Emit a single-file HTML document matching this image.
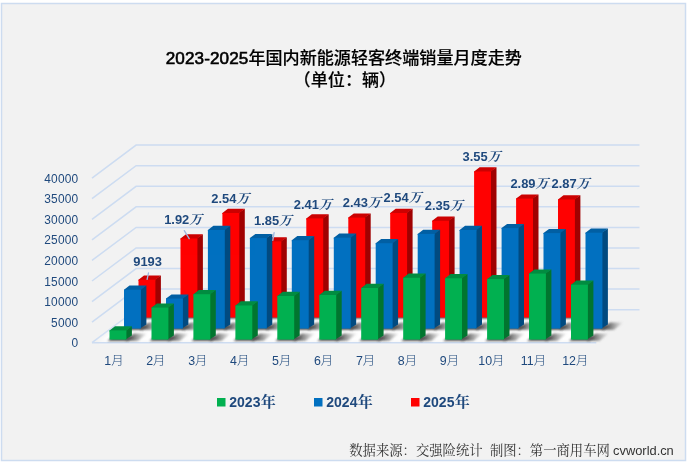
<!DOCTYPE html>
<html lang="zh"><head><meta charset="utf-8"><title>2023-2025年国内新能源轻客终端销量月度走势</title>
<style>html,body{margin:0;padding:0;background:#fff}body{width:687px;height:462px;overflow:hidden}</style>
</head><body>
<svg width="687" height="462" viewBox="0 0 687 462" style="display:block;will-change:transform;opacity:0.9999">
<defs>
<filter id="b1" x="-20%" y="-50%" width="140%" height="200%"><feGaussianBlur stdDeviation="0.85"/></filter>
<filter id="b2" x="-5%" y="-30%" width="110%" height="160%"><feGaussianBlur stdDeviation="2.2"/></filter>
<linearGradient id="sh" x1="0" y1="0" x2="1" y2="0"><stop offset="0" stop-color="#2e2e2e" stop-opacity="0.95"/><stop offset="0.35" stop-color="#444" stop-opacity="0.75"/><stop offset="0.7" stop-color="#666" stop-opacity="0.4"/><stop offset="1" stop-color="#888" stop-opacity="0.05"/></linearGradient>
</defs>
<rect x="0" y="0" width="687" height="462" fill="#ffffff"/>
<rect x="1.5" y="3.5" width="684" height="457" fill="#F2F2F2" stroke="#CDDCF0" stroke-width="1.5"/>
<path d="M92.0 342.7 L136.1 309.7 L639.5 309.7" fill="none" stroke="#CDDCF1" stroke-width="1.5"/>
<path d="M92.0 322.1 L136.1 289.1 L639.5 289.1" fill="none" stroke="#CDDCF1" stroke-width="1.5"/>
<path d="M92.0 301.6 L136.1 268.6 L639.5 268.6" fill="none" stroke="#CDDCF1" stroke-width="1.5"/>
<path d="M92.0 281.0 L136.1 248.0 L639.5 248.0" fill="none" stroke="#CDDCF1" stroke-width="1.5"/>
<path d="M92.0 260.4 L136.1 227.4 L639.5 227.4" fill="none" stroke="#CDDCF1" stroke-width="1.5"/>
<path d="M92.0 239.8 L136.1 206.8 L639.5 206.8" fill="none" stroke="#CDDCF1" stroke-width="1.5"/>
<path d="M92.0 219.3 L136.1 186.3 L639.5 186.3" fill="none" stroke="#CDDCF1" stroke-width="1.5"/>
<path d="M92.0 198.7 L136.1 165.7 L639.5 165.7" fill="none" stroke="#CDDCF1" stroke-width="1.5"/>
<path d="M92.0 178.1 L136.1 145.1 L639.5 145.1" fill="none" stroke="#CDDCF1" stroke-width="1.5"/>
<polygon points="98.0,341.7 594.4,341.7 608.4,325.7 605.5,313.7 134.1,313.7" fill="#ffffff" opacity="0.95" filter="url(#b2)"/>
<path d="M92.0 342.7 L596.3 342.7" stroke="#CDDCF1" stroke-width="1.5" fill="none"/>
<polygon points="154.4,318.7 166.9,318.7 176.4,311.3 162.9,311.3" fill="url(#sh)" filter="url(#b1)"/>
<polygon points="136.7,318.8 156.4,318.8 161.9,313.6 142.2,313.6" fill="#3a3a3a" opacity="0.85" filter="url(#b1)"/>
<polygon points="196.4,318.7 208.9,318.7 218.4,311.3 204.9,311.3" fill="url(#sh)" filter="url(#b1)"/>
<polygon points="178.7,318.8 198.4,318.8 203.9,313.6 184.2,313.6" fill="#3a3a3a" opacity="0.85" filter="url(#b1)"/>
<polygon points="238.3,318.7 250.8,318.7 260.3,311.3 246.8,311.3" fill="url(#sh)" filter="url(#b1)"/>
<polygon points="220.6,318.8 240.3,318.8 245.8,313.6 226.1,313.6" fill="#3a3a3a" opacity="0.85" filter="url(#b1)"/>
<polygon points="280.3,318.7 292.8,318.7 302.3,311.3 288.8,311.3" fill="url(#sh)" filter="url(#b1)"/>
<polygon points="262.6,318.8 282.3,318.8 287.8,313.6 268.1,313.6" fill="#3a3a3a" opacity="0.85" filter="url(#b1)"/>
<polygon points="322.2,318.7 334.7,318.7 344.2,311.3 330.7,311.3" fill="url(#sh)" filter="url(#b1)"/>
<polygon points="304.5,318.8 324.2,318.8 329.7,313.6 310.0,313.6" fill="#3a3a3a" opacity="0.85" filter="url(#b1)"/>
<polygon points="364.2,318.7 376.7,318.7 386.2,311.3 372.7,311.3" fill="url(#sh)" filter="url(#b1)"/>
<polygon points="346.5,318.8 366.2,318.8 371.7,313.6 352.0,313.6" fill="#3a3a3a" opacity="0.85" filter="url(#b1)"/>
<polygon points="406.1,318.7 418.6,318.7 428.1,311.3 414.6,311.3" fill="url(#sh)" filter="url(#b1)"/>
<polygon points="388.4,318.8 408.1,318.8 413.6,313.6 393.9,313.6" fill="#3a3a3a" opacity="0.85" filter="url(#b1)"/>
<polygon points="448.1,318.7 460.6,318.7 470.1,311.3 456.6,311.3" fill="url(#sh)" filter="url(#b1)"/>
<polygon points="430.4,318.8 450.1,318.8 455.6,313.6 435.9,313.6" fill="#3a3a3a" opacity="0.85" filter="url(#b1)"/>
<polygon points="490.0,318.7 502.5,318.7 512.0,311.3 498.5,311.3" fill="url(#sh)" filter="url(#b1)"/>
<polygon points="472.3,318.8 492.0,318.8 497.5,313.6 477.8,313.6" fill="#3a3a3a" opacity="0.85" filter="url(#b1)"/>
<polygon points="532.0,318.7 544.5,318.7 554.0,311.3 540.5,311.3" fill="url(#sh)" filter="url(#b1)"/>
<polygon points="514.3,318.8 534.0,318.8 539.5,313.6 519.8,313.6" fill="#3a3a3a" opacity="0.85" filter="url(#b1)"/>
<polygon points="573.9,318.7 586.4,318.7 595.9,311.3 582.4,311.3" fill="url(#sh)" filter="url(#b1)"/>
<polygon points="556.2,318.8 575.9,318.8 581.4,313.6 561.7,313.6" fill="#3a3a3a" opacity="0.85" filter="url(#b1)"/>
<polygon points="154.4,279.7 160.9,275.5 160.9,313.3 154.4,317.5" fill="#A00000"/>
<polygon points="138.5,279.7 144.0,275.5 160.9,275.5 155.4,279.7 155.4,280.7 138.5,280.7" fill="#CC0000"/>
<rect x="138.5" y="279.7" width="16.9" height="37.8" fill="#FF0000"/>
<polygon points="196.4,238.5 202.9,234.3 202.9,313.3 196.4,317.5" fill="#A00000"/>
<polygon points="180.5,238.5 186.0,234.3 202.9,234.3 197.4,238.5 197.4,239.5 180.5,239.5" fill="#CC0000"/>
<rect x="180.5" y="238.5" width="16.9" height="79.0" fill="#FF0000"/>
<polygon points="238.3,213.0 244.8,208.8 244.8,313.3 238.3,317.5" fill="#A00000"/>
<polygon points="222.4,213.0 227.9,208.8 244.8,208.8 239.3,213.0 239.3,214.0 222.4,214.0" fill="#CC0000"/>
<rect x="222.4" y="213.0" width="16.9" height="104.5" fill="#FF0000"/>
<polygon points="280.3,241.4 286.8,237.2 286.8,313.3 280.3,317.5" fill="#A00000"/>
<polygon points="264.4,241.4 269.9,237.2 286.8,237.2 281.3,241.4 281.3,242.4 264.4,242.4" fill="#CC0000"/>
<rect x="264.4" y="241.4" width="16.9" height="76.1" fill="#FF0000"/>
<polygon points="322.2,218.4 328.7,214.2 328.7,313.3 322.2,317.5" fill="#A00000"/>
<polygon points="306.3,218.4 311.8,214.2 328.7,214.2 323.2,218.4 323.2,219.4 306.3,219.4" fill="#CC0000"/>
<rect x="306.3" y="218.4" width="16.9" height="99.1" fill="#FF0000"/>
<polygon points="364.2,217.6 370.7,213.4 370.7,313.3 364.2,317.5" fill="#A00000"/>
<polygon points="348.3,217.6 353.8,213.4 370.7,213.4 365.2,217.6 365.2,218.6 348.3,218.6" fill="#CC0000"/>
<rect x="348.3" y="217.6" width="16.9" height="100.0" fill="#FF0000"/>
<polygon points="406.1,213.0 412.6,208.8 412.6,313.3 406.1,317.5" fill="#A00000"/>
<polygon points="390.2,213.0 395.7,208.8 412.6,208.8 407.1,213.0 407.1,214.0 390.2,214.0" fill="#CC0000"/>
<rect x="390.2" y="213.0" width="16.9" height="104.5" fill="#FF0000"/>
<polygon points="448.1,220.8 454.6,216.6 454.6,313.3 448.1,317.5" fill="#A00000"/>
<polygon points="432.2,220.8 437.7,216.6 454.6,216.6 449.1,220.8 449.1,221.8 432.2,221.8" fill="#CC0000"/>
<rect x="432.2" y="220.8" width="16.9" height="96.7" fill="#FF0000"/>
<polygon points="490.0,171.5 496.5,167.3 496.5,313.3 490.0,317.5" fill="#A00000"/>
<polygon points="474.1,171.5 479.6,167.3 496.5,167.3 491.0,171.5 491.0,172.5 474.1,172.5" fill="#CC0000"/>
<rect x="474.1" y="171.5" width="16.9" height="146.0" fill="#FF0000"/>
<polygon points="532.0,198.6 538.5,194.4 538.5,313.3 532.0,317.5" fill="#A00000"/>
<polygon points="516.1,198.6 521.6,194.4 538.5,194.4 533.0,198.6 533.0,199.6 516.1,199.6" fill="#CC0000"/>
<rect x="516.1" y="198.6" width="16.9" height="118.9" fill="#FF0000"/>
<polygon points="573.9,199.5 580.4,195.3 580.4,313.3 573.9,317.5" fill="#A00000"/>
<polygon points="558.0,199.5 563.5,195.3 580.4,195.3 574.9,199.5 574.9,200.5 558.0,200.5" fill="#CC0000"/>
<rect x="558.0" y="199.5" width="16.9" height="118.1" fill="#FF0000"/>
<polygon points="139.9,329.8 152.4,329.8 161.9,322.4 148.4,322.4" fill="url(#sh)" filter="url(#b1)"/>
<polygon points="122.2,329.9 141.9,329.9 147.4,324.7 127.7,324.7" fill="#3a3a3a" opacity="0.85" filter="url(#b1)"/>
<polygon points="181.9,329.8 194.4,329.8 203.9,322.4 190.4,322.4" fill="url(#sh)" filter="url(#b1)"/>
<polygon points="164.2,329.9 183.9,329.9 189.4,324.7 169.7,324.7" fill="#3a3a3a" opacity="0.85" filter="url(#b1)"/>
<polygon points="223.8,329.8 236.3,329.8 245.8,322.4 232.3,322.4" fill="url(#sh)" filter="url(#b1)"/>
<polygon points="206.1,329.9 225.8,329.9 231.3,324.7 211.6,324.7" fill="#3a3a3a" opacity="0.85" filter="url(#b1)"/>
<polygon points="265.8,329.8 278.3,329.8 287.8,322.4 274.3,322.4" fill="url(#sh)" filter="url(#b1)"/>
<polygon points="248.1,329.9 267.8,329.9 273.3,324.7 253.6,324.7" fill="#3a3a3a" opacity="0.85" filter="url(#b1)"/>
<polygon points="307.7,329.8 320.2,329.8 329.7,322.4 316.2,322.4" fill="url(#sh)" filter="url(#b1)"/>
<polygon points="290.0,329.9 309.7,329.9 315.2,324.7 295.5,324.7" fill="#3a3a3a" opacity="0.85" filter="url(#b1)"/>
<polygon points="349.7,329.8 362.2,329.8 371.7,322.4 358.2,322.4" fill="url(#sh)" filter="url(#b1)"/>
<polygon points="332.0,329.9 351.7,329.9 357.2,324.7 337.5,324.7" fill="#3a3a3a" opacity="0.85" filter="url(#b1)"/>
<polygon points="391.6,329.8 404.1,329.8 413.6,322.4 400.1,322.4" fill="url(#sh)" filter="url(#b1)"/>
<polygon points="373.9,329.9 393.6,329.9 399.1,324.7 379.4,324.7" fill="#3a3a3a" opacity="0.85" filter="url(#b1)"/>
<polygon points="433.6,329.8 446.1,329.8 455.6,322.4 442.1,322.4" fill="url(#sh)" filter="url(#b1)"/>
<polygon points="415.9,329.9 435.6,329.9 441.1,324.7 421.4,324.7" fill="#3a3a3a" opacity="0.85" filter="url(#b1)"/>
<polygon points="475.5,329.8 488.0,329.8 497.5,322.4 484.0,322.4" fill="url(#sh)" filter="url(#b1)"/>
<polygon points="457.8,329.9 477.5,329.9 483.0,324.7 463.3,324.7" fill="#3a3a3a" opacity="0.85" filter="url(#b1)"/>
<polygon points="517.5,329.8 530.0,329.8 539.5,322.4 526.0,322.4" fill="url(#sh)" filter="url(#b1)"/>
<polygon points="499.8,329.9 519.5,329.9 525.0,324.7 505.3,324.7" fill="#3a3a3a" opacity="0.85" filter="url(#b1)"/>
<polygon points="559.4,329.8 571.9,329.8 581.4,322.4 567.9,322.4" fill="url(#sh)" filter="url(#b1)"/>
<polygon points="541.7,329.9 561.4,329.9 566.9,324.7 547.2,324.7" fill="#3a3a3a" opacity="0.85" filter="url(#b1)"/>
<polygon points="601.4,329.8 613.9,329.8 623.4,322.4 609.9,322.4" fill="url(#sh)" filter="url(#b1)"/>
<polygon points="583.7,329.9 603.4,329.9 608.9,324.7 589.2,324.7" fill="#3a3a3a" opacity="0.85" filter="url(#b1)"/>
<polygon points="139.9,289.7 146.4,285.5 146.4,324.4 139.9,328.6" fill="#004A80"/>
<polygon points="124.0,289.7 129.5,285.5 146.4,285.5 140.9,289.7 140.9,290.7 124.0,290.7" fill="#005FA3"/>
<rect x="124.0" y="289.7" width="16.9" height="38.9" fill="#0070C0"/>
<polygon points="181.9,298.6 188.4,294.4 188.4,324.4 181.9,328.6" fill="#004A80"/>
<polygon points="166.0,298.6 171.5,294.4 188.4,294.4 182.9,298.6 182.9,299.6 166.0,299.6" fill="#005FA3"/>
<rect x="166.0" y="298.6" width="16.9" height="30.0" fill="#0070C0"/>
<polygon points="223.8,230.0 230.3,225.8 230.3,324.4 223.8,328.6" fill="#004A80"/>
<polygon points="207.9,230.0 213.4,225.8 230.3,225.8 224.8,230.0 224.8,231.0 207.9,231.0" fill="#005FA3"/>
<rect x="207.9" y="230.0" width="16.9" height="98.5" fill="#0070C0"/>
<polygon points="265.8,238.1 272.3,233.9 272.3,324.4 265.8,328.6" fill="#004A80"/>
<polygon points="249.9,238.1 255.4,233.9 272.3,233.9 266.8,238.1 266.8,239.1 249.9,239.1" fill="#005FA3"/>
<rect x="249.9" y="238.1" width="16.9" height="90.4" fill="#0070C0"/>
<polygon points="307.7,240.2 314.2,236.0 314.2,324.4 307.7,328.6" fill="#004A80"/>
<polygon points="291.8,240.2 297.3,236.0 314.2,236.0 308.7,240.2 308.7,241.2 291.8,241.2" fill="#005FA3"/>
<rect x="291.8" y="240.2" width="16.9" height="88.4" fill="#0070C0"/>
<polygon points="349.7,237.7 356.2,233.5 356.2,324.4 349.7,328.6" fill="#004A80"/>
<polygon points="333.8,237.7 339.3,233.5 356.2,233.5 350.7,237.7 350.7,238.7 333.8,238.7" fill="#005FA3"/>
<rect x="333.8" y="237.7" width="16.9" height="90.9" fill="#0070C0"/>
<polygon points="391.6,243.2 398.1,239.0 398.1,324.4 391.6,328.6" fill="#004A80"/>
<polygon points="375.7,243.2 381.2,239.0 398.1,239.0 392.6,243.2 392.6,244.2 375.7,244.2" fill="#005FA3"/>
<rect x="375.7" y="243.2" width="16.9" height="85.4" fill="#0070C0"/>
<polygon points="433.6,233.9 440.1,229.7 440.1,324.4 433.6,328.6" fill="#004A80"/>
<polygon points="417.7,233.9 423.2,229.7 440.1,229.7 434.6,233.9 434.6,234.9 417.7,234.9" fill="#005FA3"/>
<rect x="417.7" y="233.9" width="16.9" height="94.7" fill="#0070C0"/>
<polygon points="475.5,230.0 482.0,225.8 482.0,324.4 475.5,328.6" fill="#004A80"/>
<polygon points="459.6,230.0 465.1,225.8 482.0,225.8 476.5,230.0 476.5,231.0 459.6,231.0" fill="#005FA3"/>
<rect x="459.6" y="230.0" width="16.9" height="98.5" fill="#0070C0"/>
<polygon points="517.5,228.1 524.0,223.9 524.0,324.4 517.5,328.6" fill="#004A80"/>
<polygon points="501.6,228.1 507.1,223.9 524.0,223.9 518.5,228.1 518.5,229.1 501.6,229.1" fill="#005FA3"/>
<rect x="501.6" y="228.1" width="16.9" height="100.5" fill="#0070C0"/>
<polygon points="559.4,233.1 565.9,228.9 565.9,324.4 559.4,328.6" fill="#004A80"/>
<polygon points="543.5,233.1 549.0,228.9 565.9,228.9 560.4,233.1 560.4,234.1 543.5,234.1" fill="#005FA3"/>
<rect x="543.5" y="233.1" width="16.9" height="95.5" fill="#0070C0"/>
<polygon points="601.4,232.7 607.9,228.5 607.9,324.4 601.4,328.6" fill="#004A80"/>
<polygon points="585.5,232.7 591.0,228.5 607.9,228.5 602.4,232.7 602.4,233.7 585.5,233.7" fill="#005FA3"/>
<rect x="585.5" y="232.7" width="16.9" height="95.9" fill="#0070C0"/>
<polygon points="125.4,340.8 137.9,340.8 147.4,333.4 133.9,333.4" fill="url(#sh)" filter="url(#b1)"/>
<polygon points="107.7,340.9 127.4,340.9 132.9,335.7 113.2,335.7" fill="#3a3a3a" opacity="0.85" filter="url(#b1)"/>
<polygon points="167.4,340.8 179.9,340.8 189.4,333.4 175.9,333.4" fill="url(#sh)" filter="url(#b1)"/>
<polygon points="149.7,340.9 169.4,340.9 174.9,335.7 155.2,335.7" fill="#3a3a3a" opacity="0.85" filter="url(#b1)"/>
<polygon points="209.3,340.8 221.8,340.8 231.3,333.4 217.8,333.4" fill="url(#sh)" filter="url(#b1)"/>
<polygon points="191.6,340.9 211.3,340.9 216.8,335.7 197.1,335.7" fill="#3a3a3a" opacity="0.85" filter="url(#b1)"/>
<polygon points="251.3,340.8 263.8,340.8 273.3,333.4 259.8,333.4" fill="url(#sh)" filter="url(#b1)"/>
<polygon points="233.6,340.9 253.3,340.9 258.8,335.7 239.1,335.7" fill="#3a3a3a" opacity="0.85" filter="url(#b1)"/>
<polygon points="293.2,340.8 305.7,340.8 315.2,333.4 301.7,333.4" fill="url(#sh)" filter="url(#b1)"/>
<polygon points="275.5,340.9 295.2,340.9 300.7,335.7 281.0,335.7" fill="#3a3a3a" opacity="0.85" filter="url(#b1)"/>
<polygon points="335.2,340.8 347.7,340.8 357.2,333.4 343.7,333.4" fill="url(#sh)" filter="url(#b1)"/>
<polygon points="317.5,340.9 337.2,340.9 342.7,335.7 323.0,335.7" fill="#3a3a3a" opacity="0.85" filter="url(#b1)"/>
<polygon points="377.1,340.8 389.6,340.8 399.1,333.4 385.6,333.4" fill="url(#sh)" filter="url(#b1)"/>
<polygon points="359.4,340.9 379.1,340.9 384.6,335.7 364.9,335.7" fill="#3a3a3a" opacity="0.85" filter="url(#b1)"/>
<polygon points="419.1,340.8 431.6,340.8 441.1,333.4 427.6,333.4" fill="url(#sh)" filter="url(#b1)"/>
<polygon points="401.4,340.9 421.1,340.9 426.6,335.7 406.9,335.7" fill="#3a3a3a" opacity="0.85" filter="url(#b1)"/>
<polygon points="461.0,340.8 473.5,340.8 483.0,333.4 469.5,333.4" fill="url(#sh)" filter="url(#b1)"/>
<polygon points="443.3,340.9 463.0,340.9 468.5,335.7 448.8,335.7" fill="#3a3a3a" opacity="0.85" filter="url(#b1)"/>
<polygon points="503.0,340.8 515.5,340.8 525.0,333.4 511.5,333.4" fill="url(#sh)" filter="url(#b1)"/>
<polygon points="485.3,340.9 505.0,340.9 510.5,335.7 490.8,335.7" fill="#3a3a3a" opacity="0.85" filter="url(#b1)"/>
<polygon points="544.9,340.8 557.4,340.8 566.9,333.4 553.4,333.4" fill="url(#sh)" filter="url(#b1)"/>
<polygon points="527.2,340.9 546.9,340.9 552.4,335.7 532.7,335.7" fill="#3a3a3a" opacity="0.85" filter="url(#b1)"/>
<polygon points="586.9,340.8 599.4,340.8 608.9,333.4 595.4,333.4" fill="url(#sh)" filter="url(#b1)"/>
<polygon points="569.2,340.9 588.9,340.9 594.4,335.7 574.7,335.7" fill="#3a3a3a" opacity="0.85" filter="url(#b1)"/>
<polygon points="125.4,330.4 131.9,326.2 131.9,335.4 125.4,339.6" fill="#00752F"/>
<polygon points="109.5,330.4 115.0,326.2 131.9,326.2 126.4,330.4 126.4,331.4 109.5,331.4" fill="#008C40"/>
<rect x="109.5" y="330.4" width="16.9" height="9.2" fill="#00B050"/>
<polygon points="167.4,307.6 173.9,303.4 173.9,335.4 167.4,339.6" fill="#00752F"/>
<polygon points="151.5,307.6 157.0,303.4 173.9,303.4 168.4,307.6 168.4,308.6 151.5,308.6" fill="#008C40"/>
<rect x="151.5" y="307.6" width="16.9" height="32.0" fill="#00B050"/>
<polygon points="209.3,294.2 215.8,290.0 215.8,335.4 209.3,339.6" fill="#00752F"/>
<polygon points="193.4,294.2 198.9,290.0 215.8,290.0 210.3,294.2 210.3,295.2 193.4,295.2" fill="#008C40"/>
<rect x="193.4" y="294.2" width="16.9" height="45.5" fill="#00B050"/>
<polygon points="251.3,305.5 257.8,301.3 257.8,335.4 251.3,339.6" fill="#00752F"/>
<polygon points="235.4,305.5 240.9,301.3 257.8,301.3 252.3,305.5 252.3,306.5 235.4,306.5" fill="#008C40"/>
<rect x="235.4" y="305.5" width="16.9" height="34.1" fill="#00B050"/>
<polygon points="293.2,296.0 299.7,291.8 299.7,335.4 293.2,339.6" fill="#00752F"/>
<polygon points="277.3,296.0 282.8,291.8 299.7,291.8 294.2,296.0 294.2,297.0 277.3,297.0" fill="#008C40"/>
<rect x="277.3" y="296.0" width="16.9" height="43.6" fill="#00B050"/>
<polygon points="335.2,295.0 341.7,290.8 341.7,335.4 335.2,339.6" fill="#00752F"/>
<polygon points="319.3,295.0 324.8,290.8 341.7,290.8 336.2,295.0 336.2,296.0 319.3,296.0" fill="#008C40"/>
<rect x="319.3" y="295.0" width="16.9" height="44.6" fill="#00B050"/>
<polygon points="377.1,288.0 383.6,283.8 383.6,335.4 377.1,339.6" fill="#00752F"/>
<polygon points="361.2,288.0 366.7,283.8 383.6,283.8 378.1,288.0 378.1,289.0 361.2,289.0" fill="#008C40"/>
<rect x="361.2" y="288.0" width="16.9" height="51.7" fill="#00B050"/>
<polygon points="419.1,277.8 425.6,273.6 425.6,335.4 419.1,339.6" fill="#00752F"/>
<polygon points="403.2,277.8 408.7,273.6 425.6,273.6 420.1,277.8 420.1,278.8 403.2,278.8" fill="#008C40"/>
<rect x="403.2" y="277.8" width="16.9" height="61.8" fill="#00B050"/>
<polygon points="461.0,278.3 467.5,274.1 467.5,335.4 461.0,339.6" fill="#00752F"/>
<polygon points="445.1,278.3 450.6,274.1 467.5,274.1 462.0,278.3 462.0,279.3 445.1,279.3" fill="#008C40"/>
<rect x="445.1" y="278.3" width="16.9" height="61.3" fill="#00B050"/>
<polygon points="503.0,279.1 509.5,274.9 509.5,335.4 503.0,339.6" fill="#00752F"/>
<polygon points="487.1,279.1 492.6,274.9 509.5,274.9 504.0,279.1 504.0,280.1 487.1,280.1" fill="#008C40"/>
<rect x="487.1" y="279.1" width="16.9" height="60.5" fill="#00B050"/>
<polygon points="544.9,273.6 551.4,269.4 551.4,335.4 544.9,339.6" fill="#00752F"/>
<polygon points="529.0,273.6 534.5,269.4 551.4,269.4 545.9,273.6 545.9,274.6 529.0,274.6" fill="#008C40"/>
<rect x="529.0" y="273.6" width="16.9" height="66.0" fill="#00B050"/>
<polygon points="586.9,284.7 593.4,280.5 593.4,335.4 586.9,339.6" fill="#00752F"/>
<polygon points="571.0,284.7 576.5,280.5 593.4,280.5 587.9,284.7 587.9,285.7 571.0,285.7" fill="#008C40"/>
<rect x="571.0" y="284.7" width="16.9" height="54.9" fill="#00B050"/>
<g font-family="'Liberation Sans','Noto Sans CJK SC',sans-serif" font-size="11.9" fill="#1F497D">
<text x="78.4" y="347.2" text-anchor="end" letter-spacing="0.22">0</text>
<text x="78.4" y="326.6" text-anchor="end" letter-spacing="0.22">5000</text>
<text x="78.4" y="306.1" text-anchor="end" letter-spacing="0.22">10000</text>
<text x="78.4" y="285.5" text-anchor="end" letter-spacing="0.22">15000</text>
<text x="78.4" y="264.9" text-anchor="end" letter-spacing="0.22">20000</text>
<text x="78.4" y="244.3" text-anchor="end" letter-spacing="0.22">25000</text>
<text x="78.4" y="223.8" text-anchor="end" letter-spacing="0.22">30000</text>
<text x="78.4" y="203.2" text-anchor="end" letter-spacing="0.22">35000</text>
<text x="78.4" y="182.6" text-anchor="end" letter-spacing="0.22">40000</text>
<text x="113.9" y="365" text-anchor="middle" font-size="12.4">1<tspan font-weight="300">月</tspan></text>
<text x="155.8" y="365" text-anchor="middle" font-size="12.4">2<tspan font-weight="300">月</tspan></text>
<text x="197.8" y="365" text-anchor="middle" font-size="12.4">3<tspan font-weight="300">月</tspan></text>
<text x="239.7" y="365" text-anchor="middle" font-size="12.4">4<tspan font-weight="300">月</tspan></text>
<text x="281.7" y="365" text-anchor="middle" font-size="12.4">5<tspan font-weight="300">月</tspan></text>
<text x="323.6" y="365" text-anchor="middle" font-size="12.4">6<tspan font-weight="300">月</tspan></text>
<text x="365.6" y="365" text-anchor="middle" font-size="12.4">7<tspan font-weight="300">月</tspan></text>
<text x="407.5" y="365" text-anchor="middle" font-size="12.4">8<tspan font-weight="300">月</tspan></text>
<text x="449.5" y="365" text-anchor="middle" font-size="12.4">9<tspan font-weight="300">月</tspan></text>
<text x="491.4" y="365" text-anchor="middle" font-size="12.4">10<tspan font-weight="300">月</tspan></text>
<text x="533.4" y="365" text-anchor="middle" font-size="12.4">11<tspan font-weight="300">月</tspan></text>
<text x="575.3" y="365" text-anchor="middle" font-size="12.4">12<tspan font-weight="300">月</tspan></text>
</g>
<g font-family="'Liberation Sans',sans-serif" font-size="12.9" font-weight="bold" fill="#1F497D" text-anchor="middle">
<text x="147.6" y="266.1">9193</text>
<text x="183.2" y="223.5">1.92<tspan font-family="'Noto Serif CJK SC',serif" font-style="italic" font-weight="bold" font-size="12.9">万</tspan></text>
<text x="230.3" y="202.8">2.54<tspan font-family="'Noto Serif CJK SC',serif" font-style="italic" font-weight="bold" font-size="12.9">万</tspan></text>
<text x="273" y="224.5">1.85<tspan font-family="'Noto Serif CJK SC',serif" font-style="italic" font-weight="bold" font-size="12.9">万</tspan></text>
<text x="312.8" y="208.5">2.41<tspan font-family="'Noto Serif CJK SC',serif" font-style="italic" font-weight="bold" font-size="12.9">万</tspan></text>
<text x="361.8" y="207">2.43<tspan font-family="'Noto Serif CJK SC',serif" font-style="italic" font-weight="bold" font-size="12.9">万</tspan></text>
<text x="402.6" y="201.6">2.54<tspan font-family="'Noto Serif CJK SC',serif" font-style="italic" font-weight="bold" font-size="12.9">万</tspan></text>
<text x="443.8" y="210.2">2.35<tspan font-family="'Noto Serif CJK SC',serif" font-style="italic" font-weight="bold" font-size="12.9">万</tspan></text>
<text x="481.6" y="161.2">3.55<tspan font-family="'Noto Serif CJK SC',serif" font-style="italic" font-weight="bold" font-size="12.9">万</tspan></text>
<text x="529.4" y="188">2.89<tspan font-family="'Noto Serif CJK SC',serif" font-style="italic" font-weight="bold" font-size="12.9">万</tspan></text>
<text x="570.6" y="188">2.87<tspan font-family="'Noto Serif CJK SC',serif" font-style="italic" font-weight="bold" font-size="12.9">万</tspan></text>
</g>
<g stroke="#9DB7E2" stroke-width="1.3" fill="none" stroke-linecap="round">
<path d="M148.5 272.8 L147.1 279.3"/>
<path d="M184.3 230.6 L189.2 238.6"/>
<path d="M274.1 232.6 L272.8 240.4"/>
</g>
<g font-family="'Liberation Sans','Noto Sans CJK SC',sans-serif" font-weight="bold" font-size="17.1" fill="#000" text-anchor="middle">
<text x="343.8" y="63.5"><tspan font-weight="400" stroke="#000" stroke-width="0.6" letter-spacing="0.1">2023-2025</tspan><tspan font-weight="500" stroke="#000" stroke-width="0.15">年国内新能源轻客终端销量月度走势</tspan></text>
<text x="344.9" y="86.3"><tspan font-weight="500" stroke="#000" stroke-width="0.15">（单位：辆）</tspan></text>
</g>
<g font-family="'Liberation Sans',sans-serif" font-weight="bold" font-size="14.3" fill="#1F497D">
<rect x="217" y="398" width="8.5" height="8.5" fill="#00B050"/>
<text x="229.3" y="407" font-size="14">2023<tspan font-family="'Noto Serif CJK SC',serif" font-weight="bold" font-size="15" dx="0.3">年</tspan></text>
<rect x="314" y="398" width="8.5" height="8.5" fill="#0070C0"/>
<text x="326.3" y="407" font-size="14">2024<tspan font-family="'Noto Serif CJK SC',serif" font-weight="bold" font-size="15" dx="0.3">年</tspan></text>
<rect x="411" y="398" width="8.5" height="8.5" fill="#FF0000"/>
<text x="423.3" y="407" font-size="14">2025<tspan font-family="'Noto Serif CJK SC',serif" font-weight="bold" font-size="15" dx="0.3">年</tspan></text>
</g>
<g font-size="13.33" fill="#333333" font-weight="400" font-family="'Noto Serif CJK SC',serif">
<text x="349.3" y="455">数据来源：交强险统计</text>
<text x="489.9" y="455">制图：第一商用车网</text>
<text x="613.1" y="455" font-size="12.85" font-weight="400" fill="#333" font-family="'Liberation Sans',sans-serif">cvworld.cn</text>
</g>
</svg>
</body></html>
